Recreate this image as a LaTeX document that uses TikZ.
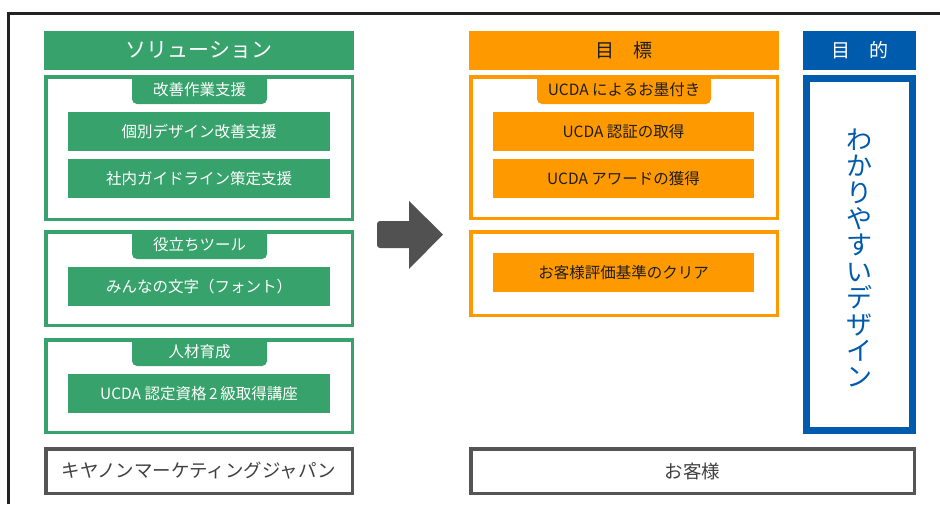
\documentclass[tikz,border=0pt]{standalone}
\usepackage{fontspec}
\setmainfont{Noto Sans CJK JP}
\definecolor{gr}{HTML}{37A26B}
\definecolor{og}{HTML}{FF9900}
\definecolor{bl}{HTML}{005BAC}
\definecolor{gy}{HTML}{555555}
\definecolor{fr}{HTML}{222222}
\definecolor{dk}{HTML}{1E1E1E}
\begin{document}
\begin{tikzpicture}[x=1pt,y=-1pt,
  every node/.style={inner sep=0pt,outer sep=0pt},
  fillbox/.style={fill=#1,draw=none,anchor=north west},
  framebox/.style={draw=#1,fill=white,anchor=north west,line width=3.5pt},
  hdtxt/.style={font=\fontsize{21}{24}\selectfont},
  midtxt/.style={font=\fontsize{19}{22}\selectfont},
  smtxt/.style={font=\fontsize{15.5}{18}\selectfont},
  lgtxt/.style={font=\fontsize{18.5}{22}\selectfont,text=dk!85!white},
]
\useasboundingbox (0,0) rectangle (940,504);
% outer frame
\draw[fr,line width=3pt] (8.5,504) -- (8.5,13.3) -- (940,13.3);

% ===== left column (green) =====
\node[fillbox=gr,minimum width=310pt,minimum height=39pt] (solh) at (44,31) {};
\node[hdtxt,text=white] (solt) at (solh.center) {ソリューション};

\node[framebox=gr,minimum width=306.5pt,minimum height=142.5pt] (gb1) at (45.75,76.75) {};
\node[framebox=gr,minimum width=306.5pt,minimum height=93.5pt] (gb2) at (45.75,231.75) {};
\node[framebox=gr,minimum width=306.5pt,minimum height=92.5pt] (gb3) at (45.75,339.75) {};

% tabs
\fill[gr] (132,75) -- (132,99) arc[start angle=180,end angle=90,radius=5] -- (262,104) arc[start angle=90,end angle=0,radius=5] -- (267,75) -- cycle;
\node[smtxt,text=white] (gt1) at (199.5,89.5) {改善作業支援};
\fill[gr] (132,230) -- (132,254) arc[start angle=180,end angle=90,radius=5] -- (262,259) arc[start angle=90,end angle=0,radius=5] -- (267,230) -- cycle;
\node[smtxt,text=white] (gt2) at (199.5,244.5) {役立ちツール};
\fill[gr] (132,338) -- (132,361) arc[start angle=180,end angle=90,radius=5] -- (262,366) arc[start angle=90,end angle=0,radius=5] -- (267,338) -- cycle;
\node[smtxt,text=white] (gt3) at (199.5,352) {人材育成};

\node[fillbox=gr,minimum width=262pt,minimum height=39pt] (g11) at (68,112) {};
\node[smtxt,text=white] at (g11.center) {個別デザイン改善支援};
\node[fillbox=gr,minimum width=262pt,minimum height=39pt] (g12) at (68,159) {};
\node[smtxt,text=white] at (g12.center) {社内ガイドライン策定支援};
\node[fillbox=gr,minimum width=262pt,minimum height=39pt] (g21) at (68,267) {};
\node[smtxt,text=white] at (g21.center) {みんなの文字（フォント）};
\node[fillbox=gr,minimum width=262pt,minimum height=39pt] (g31) at (68,374) {};
\node[smtxt,text=white] at (g31.center) {UCDA 認定資格\,2\,級取得講座};

\node[framebox=gy,minimum width=306.5pt,minimum height=44.5pt] (cmj) at (45.75,448.75) {};
\node[lgtxt] at (cmj.center) {キヤノンマーケティングジャパン};

% ===== arrow =====
\fill[gy!95!black] (409,221) -- (409,201) -- (443,234.5) -- (409,269) -- (409,248)
  [rounded corners=3pt] -- (377,248) -- (377,221) [sharp corners] -- cycle;

% ===== middle column (orange) =====
\node[fillbox=og,minimum width=310pt,minimum height=39pt] (mkh) at (469,31) {};
\node[midtxt,text=dk] at (mkh.center) {目　標};

\node[framebox=og,minimum width=306.5pt,minimum height=141.5pt] (ob1) at (470.75,76.75) {};
\node[framebox=og,minimum width=306.5pt,minimum height=83.5pt] (ob2) at (470.75,231.75) {};

\fill[og] (537,75) -- (537,99) arc[start angle=180,end angle=90,radius=5] -- (706,104) arc[start angle=90,end angle=0,radius=5] -- (711,75) -- cycle;
\node[smtxt,text=dk] (ot1) at (624,89.5) {UCDA によるお墨付き};

\node[fillbox=og,minimum width=261pt,minimum height=39pt] (o11) at (493,112) {};
\node[smtxt,text=dk] at (o11.center) {UCDA 認証の取得};
\node[fillbox=og,minimum width=261pt,minimum height=39pt] (o12) at (493,159) {};
\node[smtxt,text=dk] at (o12.center) {UCDA アワードの獲得};
\node[fillbox=og,minimum width=261pt,minimum height=39pt] (o21) at (493,253) {};
\node[smtxt,text=dk] at (o21.center) {お客様評価基準のクリア};

\node[framebox=gy,minimum width=443.5pt,minimum height=44.5pt] (cus) at (470.75,448.75) {};
\node[lgtxt] at (cus.center) {お客様};

% ===== right column (blue) =====
\node[fillbox=bl,minimum width=113pt,minimum height=39pt] (mth) at (803,31) {};
\node[midtxt,text=white] at (mth.center) {目　的};
\node[framebox=bl,line width=7pt,minimum width=106pt,minimum height=352pt] (bb) at (806.5,78.5) {};
\node[align=center,text=bl,font=\fontsize{26}{26.4}\selectfont] (vt) at (859.5,258)
  {わ\\か\\り\\や\\す\\い\\デ\\ザ\\イ\\ン};
\end{tikzpicture}
\end{document}
